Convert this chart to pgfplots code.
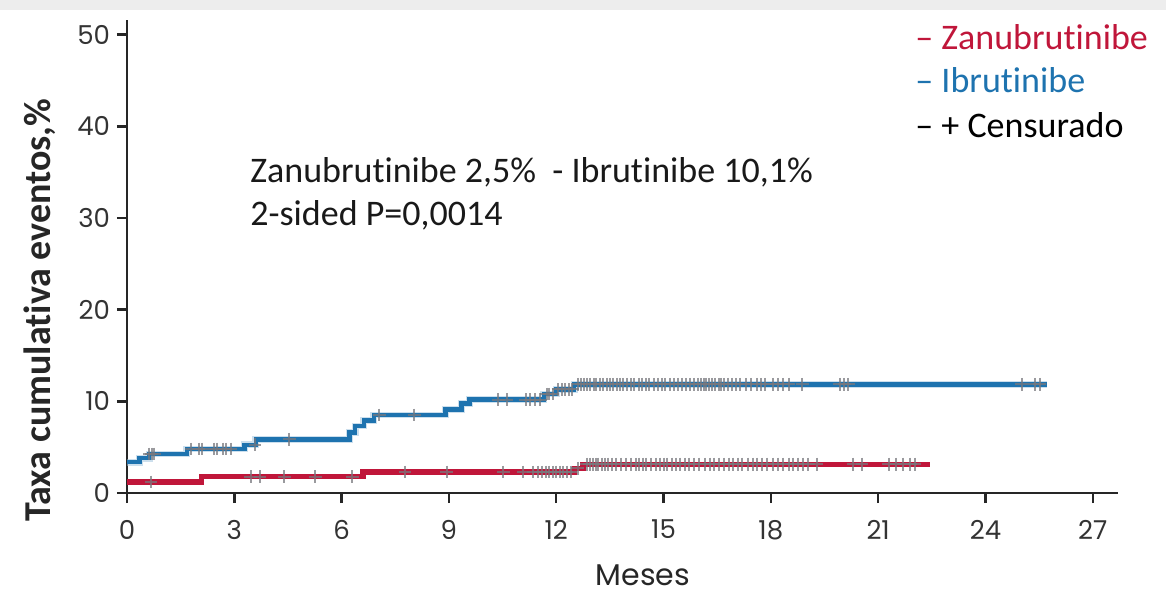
\documentclass[border=0pt]{standalone}
\usepackage{pgfplots}
\pgfplotsset{compat=1.18}
\usepackage{fontspec}
\setmainfont[Ligatures=NoCommon]{Carlito}
\newfontfamily\pop{Poppins}
\definecolor{zred}{RGB}{192,22,58}
\definecolor{zblue}{RGB}{30,115,175}
\definecolor{cens}{RGB}{120,120,125}
\begin{document}
\begin{tikzpicture}
\useasboundingbox (0,0) rectangle (583pt,297pt);
\fill[black!7] (0,292pt) rectangle (583pt,297pt);
\begin{axis}[
  at={(63.5pt,50.5pt)}, anchor=south west,
  scale only axis, width=495.4pt, height=236.5pt,
  xmin=0, xmax=27.7, ymin=0, ymax=51.6,
  axis x line=bottom, axis y line=left,
  axis line style={black!85, line width=1.2pt, -},
  xtick={0,3,...,27}, ytick={0,10,...,50},
  tick align=outside, major tick length=5pt,
  tick style={black!85, line width=1.2pt},
  ticklabel style={font=\pop\fontsize{13}{14}\selectfont, text=black!80},
  /pgf/number format/assume math mode=true,
  xticklabel style={yshift=-5pt},
  clip=false,
]
% Ibrutinibe curve
\addplot[const plot mark left, zblue!45, line width=3.4pt, opacity=0.5] coordinates {
(0,3.35)(0.35,3.8)(0.62,4.25)(1.67,4.8)(3.28,5.25)(3.6,5.85)(6.22,6.6)(6.38,7.3)(6.62,7.9)(6.9,8.5)(8.9,9.1)(9.35,9.75)(9.58,10.2)(11.65,10.8)(12.0,11.3)(12.5,11.85)(25.72,11.85)};
\addplot[const plot mark left, zblue, line width=2.2pt] coordinates {
(0,3.35)(0.35,3.8)(0.62,4.25)(1.67,4.8)(3.28,5.25)(3.6,5.85)(6.22,6.6)(6.38,7.3)(6.62,7.9)(6.9,8.5)(8.9,9.1)(9.35,9.75)(9.58,10.2)(11.65,10.8)(12.0,11.3)(12.5,11.85)(25.72,11.85)};
% Zanubrutinibe curve
\addplot[const plot mark left, zred, line width=2.6pt] coordinates {
(0,1.2)(2.08,1.8)(6.6,2.3)(12.5,2.7)(12.75,3.15)(22.45,3.15)};
% censored marks, Ibrutinibe
\addplot[only marks, mark=+, mark size=3.2pt, cens, opacity=0.75, mark options={line width=1pt}] coordinates {
(0.62,4.25)(0.69,4.25)(0.76,4.25)(1.79,4.8)(2.0,4.8)(2.09,4.8)(2.43,4.8)(2.51,4.8)(2.69,4.8)(2.77,4.8)(2.91,4.8)
(3.58,5.25)(4.54,5.85)(7.05,8.5)(8.03,8.5)(10.38,10.2)(10.62,10.2)(11.15,10.2)(11.27,10.2)(11.41,10.2)(11.55,10.2)
(11.73,10.8)(11.80,10.8)(11.90,10.8)(12.05,11.3)(12.15,11.3)(12.25,11.3)(12.35,11.3)(12.45,11.3)
(12.62,11.85)(12.70,11.85)(12.78,11.85)(12.86,11.85)(12.95,11.85)(13.05,11.85)(13.12,11.85)(13.22,11.85)(13.30,11.85)
(13.41,11.85)(13.50,11.85)(13.58,11.85)(13.70,11.85)(13.78,11.85)(13.88,11.85)(13.97,11.85)(14.08,11.85)(14.18,11.85)
(14.30,11.85)(14.40,11.85)(14.52,11.85)(14.60,11.85)(14.72,11.85)(14.85,11.85)(14.95,11.85)(15.05,11.85)(15.18,11.85)
(15.30,11.85)(15.40,11.85)(15.52,11.85)(15.62,11.85)(15.75,11.85)(15.85,11.85)(15.95,11.85)(16.05,11.85)(16.12,11.85)
(16.20,11.85)(16.28,11.85)(16.36,11.85)(16.45,11.85)(16.55,11.85)(16.62,11.85)(16.70,11.85)(16.80,11.85)(16.90,11.85)
(17.02,11.85)(17.15,11.85)(17.30,11.85)(17.45,11.85)(17.60,11.85)(17.72,11.85)(17.85,11.85)(18.05,11.85)(18.20,11.85)
(18.35,11.85)(18.50,11.85)(18.88,11.85)(19.93,11.85)(20.05,11.85)(20.17,11.85)(25.01,11.85)(25.38,11.85)(25.52,11.85)};
% censored marks, Zanubrutinibe
\addplot[only marks, mark=+, mark size=3.2pt, cens, opacity=0.75, mark options={line width=1pt}] coordinates {
(0.67,1.2)(3.46,1.8)(3.72,1.8)(4.4,1.8)(5.26,1.8)(6.3,1.8)(7.77,2.3)(8.94,2.3)(10.52,2.3)(11.08,2.3)(11.36,2.3)(11.5,2.3)
(11.6,2.3)(11.7,2.3)(11.8,2.3)(11.9,2.3)(12.0,2.3)(12.1,2.3)(12.2,2.3)(12.3,2.3)(12.4,2.3)(12.6,2.7)
(12.85,3.15)(12.93,3.15)(13.02,3.15)(13.10,3.15)(13.18,3.15)(13.27,3.15)(13.35,3.15)(13.45,3.15)(13.55,3.15)(13.66,3.15)
(13.80,3.15)(13.95,3.15)(14.10,3.15)(14.22,3.15)(14.32,3.15)(14.42,3.15)(14.52,3.15)(14.65,3.15)(14.80,3.15)(14.90,3.15)
(15.00,3.15)(15.10,3.15)(15.25,3.15)(15.35,3.15)(15.45,3.15)(15.60,3.15)(15.72,3.15)(15.85,3.15)(16.00,3.15)(16.15,3.15)
(16.30,3.15)(16.42,3.15)(16.55,3.15)(16.70,3.15)(16.82,3.15)(16.95,3.15)(17.08,3.15)(17.20,3.15)(17.35,3.15)(17.50,3.15)
(17.62,3.15)(17.75,3.15)(17.90,3.15)(18.05,3.15)(18.20,3.15)(18.35,3.15)(18.50,3.15)(18.62,3.15)(18.75,3.15)(18.90,3.15)
(19.05,3.15)(19.28,3.15)(20.30,3.15)(20.55,3.15)(21.30,3.15)(21.50,3.15)(21.70,3.15)(21.90,3.15)(22.02,3.15)};
\end{axis}
% y label
\node[rotate=90, font=\bfseries\fontsize{19}{20}\selectfont, text=black!85] at (20pt,142pt) {Taxa cumulativa eventos,\%};
% x label
\node[font=\pop\fontsize{15}{16}\selectfont, text=black!85] at (321.5pt,9.5pt) {Meses};
% annotation
\node[anchor=base west, inner sep=0pt, font=\fontsize{18}{20}\selectfont, text=black!90] at (125pt,205.5pt) {Zanubrutinibe 2,5\%\ \ - Ibrutinibe 10,1\%};
\node[anchor=base west, inner sep=0pt, font=\fontsize{18}{20}\selectfont, text=black!90] at (125pt,184pt) {2-sided P=0,0014};
% legend
\node[anchor=base west, inner sep=0pt, font=\fontsize{18}{20}\selectfont, text=zred] at (457.5pt,272pt) {– Zanubrutinibe};
\node[anchor=base west, inner sep=0pt, font=\fontsize{18}{20}\selectfont, text=zblue] at (457.5pt,250.5pt) {– Ibrutinibe};
\node[anchor=base west, inner sep=0pt, font=\fontsize{18}{20}\selectfont, text=black] at (457.5pt,228pt) {– + Censurado};
\end{tikzpicture}
\end{document}
